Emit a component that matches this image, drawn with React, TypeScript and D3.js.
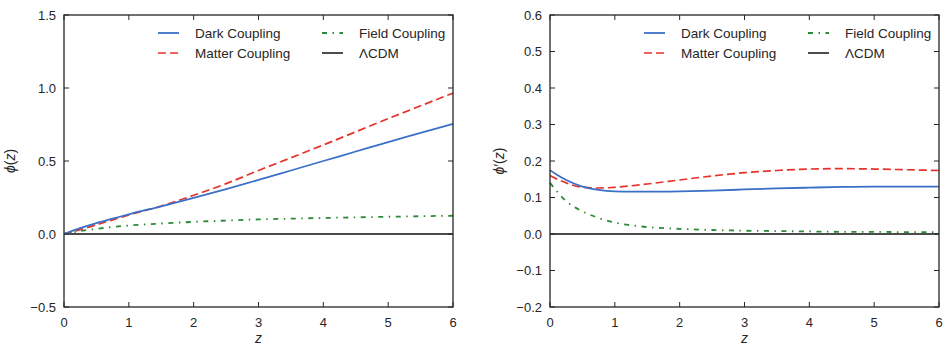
import * as d3 from 'd3';

// left panel: phi(z)
const zLeft = [0, 0.25, 0.5, 0.75, 1, 1.5, 2, 2.5, 3, 3.5, 4, 4.5, 5, 5.5, 6];
const phiDark = [0, 0.04, 0.075, 0.105, 0.135, 0.19, 0.248, 0.308, 0.37, 0.435, 0.5, 0.565, 0.63, 0.692, 0.755];
const phiMatter = [0, 0.03, 0.063, 0.097, 0.13, 0.192, 0.265, 0.345, 0.435, 0.522, 0.61, 0.7, 0.79, 0.878, 0.965];
const phiField = [0, 0.02, 0.035, 0.048, 0.058, 0.072, 0.083, 0.092, 0.1, 0.105, 0.11, 0.114, 0.118, 0.122, 0.125];

// right panel: phi'(z)
const zRight = [0, 0.1, 0.25, 0.5, 0.75, 1, 1.25, 1.5, 2, 2.5, 3, 3.5, 4, 4.5, 5, 5.5, 6];
const dphiDark = [0.175, 0.163, 0.148, 0.13, 0.121, 0.117, 0.116, 0.116, 0.117, 0.119, 0.122, 0.125, 0.127, 0.129, 0.13, 0.13, 0.13];
const dphiMatter = [0.16, 0.151, 0.14, 0.128, 0.126, 0.128, 0.132, 0.137, 0.148, 0.159, 0.168, 0.174, 0.178, 0.179, 0.178, 0.176, 0.174];
const dphiField = [0.14, 0.118, 0.09, 0.062, 0.044, 0.031, 0.024, 0.019, 0.014, 0.011, 0.009, 0.008, 0.007, 0.006, 0.006, 0.005, 0.005];

const xTicks = [0, 1, 2, 3, 4, 5, 6];
const yTicksLeft = [-0.5, 0, 0.5, 1, 1.5];
const yTicksRight = [-0.2, -0.1, 0, 0.1, 0.2, 0.3, 0.4, 0.5, 0.6];

const FONT = '"Liberation Sans", Arial, sans-serif';
const INK = '#262626';
const BLUE = '#3a70c8';
const RED = '#e5322a';
const GREEN = '#2b8a36';

const styles = {
  dark: { color: BLUE, dash: undefined as string | undefined, width: 1.8 },
  matter: { color: RED, dash: '8,4', width: 1.7 },
  field: { color: GREEN, dash: '5,5.5,1.5,5.5', width: 1.8 },
  lcdm: { color: '#111', dash: undefined as string | undefined, width: 1.5 },
};

const fmt = (v: number) => {
  const s = v.toFixed(1);
  return v < 0 ? '\u2212' + s.slice(1) : s;
};

interface PanelProps {
  left: number;
  zs: number[];
  dark: number[];
  matter: number[];
  field: number[];
  yDomain: [number, number];
  yTicks: number[];
  prime: boolean;
  labelX: number;
}

const Panel = ({ left, zs, dark, matter, field, yDomain, yTicks, prime, labelX }: PanelProps) => {
  const top = 15;
  const bottom = 307;
  const w = 389;
  const x = d3.scaleLinear().domain([0, 6]).range([left, left + w]);
  const y = d3.scaleLinear().domain(yDomain).range([bottom, top]);
  const line = d3
    .line<number>()
    .x((_, i) => x(zs[i]))
    .y((d) => y(d))
    .curve(d3.curveMonotoneX);
  const tick = 5;

  const legend = [
    { key: 'dark', label: 'Dark Coupling', col: 0, row: 0 },
    { key: 'matter', label: 'Matter Coupling', col: 0, row: 1 },
    { key: 'field', label: 'Field Coupling', col: 1, row: 0 },
    { key: 'lcdm', label: '\u039BCDM', col: 1, row: 1 },
  ] as const;

  return (
    <g>
      <line x1={x(0)} x2={x(6)} y1={y(0)} y2={y(0)} stroke={styles.lcdm.color} strokeWidth={styles.lcdm.width} />
      {(
        [
          ['field', field],
          ['matter', matter],
          ['dark', dark],
        ] as const
      ).map(([k, vals]) => (
        <path
          key={k}
          d={line(vals) || ''}
          fill="none"
          stroke={styles[k].color}
          strokeWidth={styles[k].width}
          strokeDasharray={styles[k].dash}
        />
      ))}

      {/* frame */}
      <rect x={left} y={top} width={w} height={bottom - top} fill="none" stroke={INK} strokeWidth={1.3} />

      {xTicks.map((t) => (
        <g key={'x' + t}>
          <line x1={x(t)} x2={x(t)} y1={bottom} y2={bottom - tick} stroke={INK} />
          <line x1={x(t)} x2={x(t)} y1={top} y2={top + tick} stroke={INK} />
          <text x={x(t)} y={bottom + 20} textAnchor="middle" fontFamily={FONT} fontSize={13} fill={INK}>
            {t}
          </text>
        </g>
      ))}
      {yTicks.map((t) => (
        <g key={'y' + t}>
          <line x1={left} x2={left + tick} y1={y(t)} y2={y(t)} stroke={INK} />
          <line x1={left + w} x2={left + w - tick} y1={y(t)} y2={y(t)} stroke={INK} />
          <text x={left - 8} y={y(t) + 4.5} textAnchor="end" fontFamily={FONT} fontSize={13} fill={INK}>
            {fmt(t)}
          </text>
        </g>
      ))}

      <text x={left + w / 2} y={343} textAnchor="middle" fontFamily={FONT} fontSize={14} fontStyle="italic" fill={INK}>
        z
      </text>
      <text
        transform={`translate(${labelX},${(top + bottom) / 2}) rotate(-90)`}
        textAnchor="middle"
        fontFamily={FONT}
        fontSize={14}
        fill={INK}
      >
        <tspan fontStyle="italic">{'\u03D5'}</tspan>
        {prime ? '\u2032' : ''}
        {'('}
        <tspan fontStyle="italic">z</tspan>
        {')'}
      </text>

      {legend.map((l) => {
        const lx = left + 94 + l.col * 164;
        const ly = 33 + l.row * 20;
        const s = styles[l.key];
        return (
          <g key={l.key}>
            <line x1={lx} x2={lx + 21} y1={ly} y2={ly} stroke={s.color} strokeWidth={s.width} strokeDasharray={s.dash} />
            <text x={lx + 37} y={ly + 5} fontFamily={FONT} fontSize={13.5} fill={INK}>
              {l.label}
            </text>
          </g>
        );
      })}
    </g>
  );
};

export default function App() {
  return (
    <div style={{ position: 'absolute', left: 0, top: 0 }}>
      <svg width={949} height={348} style={{ display: 'block', background: '#fff' }}>
        <Panel
          left={64}
          zs={zLeft}
          dark={phiDark}
          matter={phiMatter}
          field={phiField}
          yDomain={[-0.5, 1.5]}
          yTicks={yTicksLeft}
          prime={false}
          labelX={15}
        />
        <Panel
          left={550}
          zs={zRight}
          dark={dphiDark}
          matter={dphiMatter}
          field={dphiField}
          yDomain={[-0.2, 0.6]}
          yTicks={yTicksRight}
          prime={true}
          labelX={504}
        />
      </svg>
    </div>
  );
}
